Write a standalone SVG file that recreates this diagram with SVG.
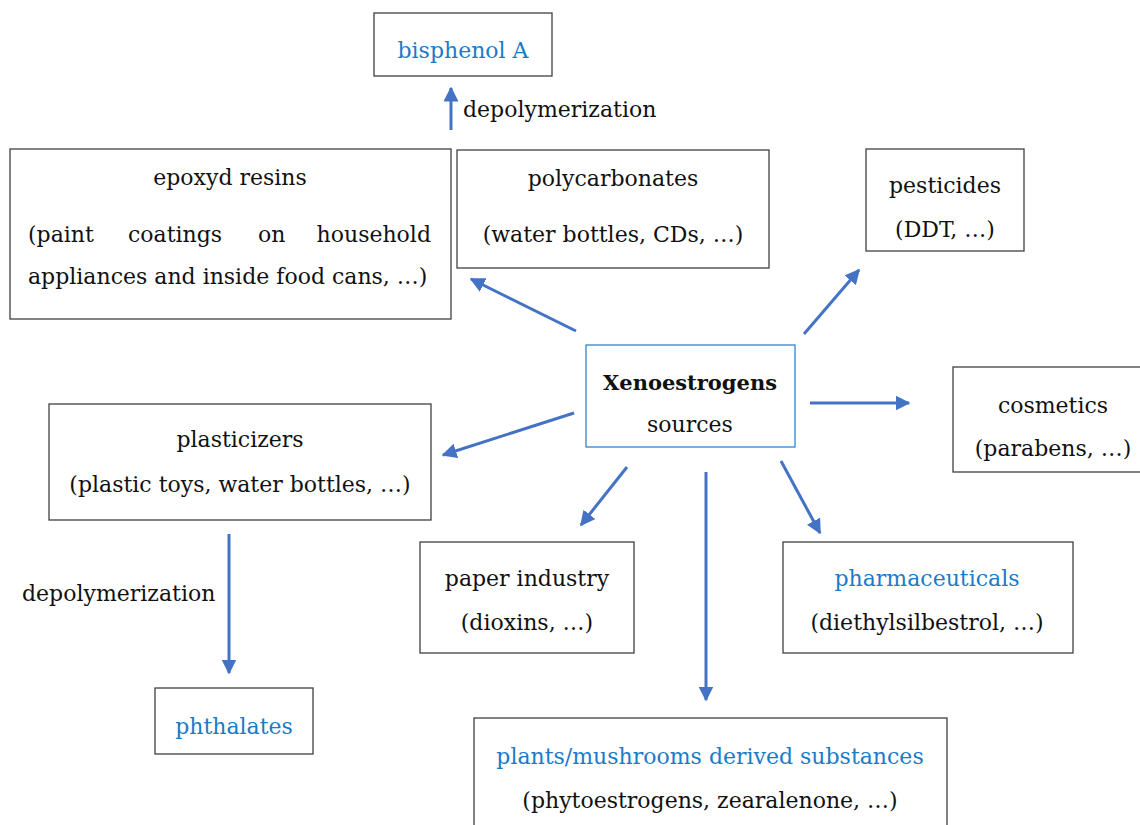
<svg xmlns="http://www.w3.org/2000/svg" width="1140" height="825" viewBox="0 0 1140 825">
<style>
.box{fill:#fff;stroke:#404040;stroke-width:1.3}
.cbox{fill:#fff;stroke:#2f86d0;stroke-width:1.3}
text{font-family:"DejaVu Serif","Liberation Serif",serif;font-size:22px;fill:#111}
.c{text-anchor:middle}
.blue{fill:#1a7bc9}
.b{font-weight:bold;font-size:21px}
.arr{stroke:#4472c4;stroke-width:3;fill:none;marker-end:url(#ah)}
</style>
<defs>
<marker id="ah" viewBox="0 0 10 10" refX="9" refY="5" markerWidth="5" markerHeight="5" orient="auto" markerUnits="strokeWidth">
<path d="M0,0 L10,5 L0,10 z" fill="#4472c4"/>
</marker>
</defs>
<rect width="1140" height="825" fill="#fff"/>
<g id="connectors">
<line class="arr" x1="451" y1="130" x2="451" y2="88"/>
<line class="arr" x1="229" y1="534" x2="229" y2="673"/>
<line class="arr" x1="576" y1="331" x2="471" y2="279"/>
<line class="arr" x1="804" y1="334" x2="859" y2="270"/>
<line class="arr" x1="810" y1="403" x2="909" y2="403"/>
<line class="arr" x1="574" y1="413" x2="443" y2="455"/>
<line class="arr" x1="627" y1="467" x2="581" y2="525"/>
<line class="arr" x1="706" y1="472" x2="706" y2="700"/>
<line class="arr" x1="781" y1="461" x2="820" y2="533"/>
</g>
<g id="label-depoly-top"><text x="463" y="117">depolymerization</text></g>
<g id="label-depoly-left"><text x="22" y="601">depolymerization</text></g>
<g id="bisphenol"><rect class="box" x="374" y="13" width="178" height="63"/><text class="c blue" x="463" y="58">bisphenol A</text></g>
<g id="epoxyd"><rect class="box" x="10" y="149" width="441" height="170"/>
<text class="c" x="230" y="185">epoxyd resins</text>
<text x="28" y="242">(paint</text><text x="128" y="242">coatings</text><text x="258" y="242">on</text><text x="431" y="242" text-anchor="end">household</text>
<text x="28" y="284">appliances and inside food cans, …)</text></g>
<g id="polycarbonates"><rect class="box" x="457" y="150" width="312" height="118"/>
<text class="c" x="613" y="186">polycarbonates</text><text class="c" x="613" y="242">(water bottles, CDs, …)</text></g>
<g id="pesticides"><rect class="box" x="866" y="149" width="158" height="102"/>
<text class="c" x="945" y="193">pesticides</text><text class="c" x="945" y="237">(DDT, …)</text></g>
<g id="xeno"><rect class="cbox" x="586" y="345" width="209" height="102"/>
<text class="c b" x="690" y="390">Xenoestrogens</text><text class="c" x="690" y="432">sources</text></g>
<g id="cosmetics"><rect class="box" x="953" y="367" width="190" height="105"/>
<text class="c" x="1053" y="413">cosmetics</text><text class="c" x="1053" y="456">(parabens, …)</text></g>
<g id="plasticizers"><rect class="box" x="49" y="404" width="382" height="116"/>
<text class="c" x="240" y="447">plasticizers</text><text class="c" x="240" y="492">(plastic toys, water bottles, …)</text></g>
<g id="paper"><rect class="box" x="420" y="542" width="214" height="111"/>
<text class="c" x="527" y="586">paper industry</text><text class="c" x="527" y="630">(dioxins, …)</text></g>
<g id="pharma"><rect class="box" x="783" y="542" width="290" height="111"/>
<text class="c blue" x="927" y="586">pharmaceuticals</text><text class="c" x="927" y="630">(diethylsilbestrol, …)</text></g>
<g id="phthalates"><rect class="box" x="155" y="688" width="158" height="66"/>
<text class="c blue" x="234" y="734">phthalates</text></g>
<g id="plants"><rect class="box" x="474" y="718" width="473" height="120"/>
<text class="c blue" x="710" y="764">plants/mushrooms derived substances</text><text class="c" x="710" y="808">(phytoestrogens, zearalenone, …)</text></g>
</svg>
